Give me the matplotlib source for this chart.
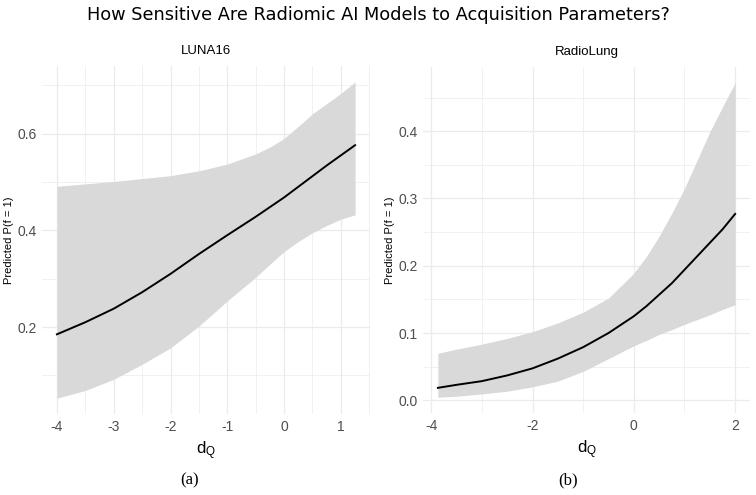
import numpy as np
import matplotlib
matplotlib.use("Agg")
import matplotlib.pyplot as plt
from matplotlib.ticker import MultipleLocator, FormatStrFormatter

# ---------------- data ----------------
luna_x = [-4.0, -3.5, -3.0, -2.5, -2.0, -1.5, -1.0, -0.5, -0.25, 0.0, 0.25, 0.5, 0.75, 1.0, 1.25]
luna_fit = [0.185, 0.210, 0.238, 0.272, 0.310, 0.351, 0.390, 0.428, 0.448, 0.468, 0.490,
            0.512, 0.534, 0.555, 0.576]
luna_hi = [0.491, 0.496, 0.501, 0.507, 0.513, 0.523, 0.537, 0.558, 0.572, 0.590, 0.615,
           0.641, 0.662, 0.683, 0.707]
luna_lo = [0.053, 0.069, 0.092, 0.123, 0.157, 0.202, 0.254, 0.303, 0.330, 0.356, 0.377,
           0.395, 0.410, 0.423, 0.432]

radio_x = [-3.87, -3.5, -3.0, -2.5, -2.0, -1.5, -1.0, -0.5, 0.0, 0.25, 0.5, 0.75,
           1.0, 1.25, 1.5, 1.75, 2.0]
radio_fit = [0.0185, 0.023, 0.0285, 0.037, 0.0475, 0.062, 0.079, 0.100, 0.125, 0.140,
             0.157, 0.174, 0.194, 0.214, 0.234, 0.254, 0.277]
radio_hi = [0.070, 0.076, 0.0835, 0.092, 0.102, 0.115, 0.131, 0.152, 0.189, 0.214,
            0.244, 0.278, 0.315, 0.357, 0.399, 0.436, 0.472]
radio_lo = [0.0045, 0.006, 0.0095, 0.0135, 0.020, 0.0285, 0.043, 0.062, 0.081, 0.089,
            0.098, 0.105, 0.113, 0.120, 0.127, 0.135, 0.142]

panel_titles = ["LUNA16", "RadioLung"]
captions = ["(a)", "(b)"]
suptitle = "How Sensitive Are Radiomic AI Models to Acquisition Parameters?"

GRID = "#ebebeb"
TICK = "#4d4d4d"
BAND = "#d9d9d9"

plt.rcParams["font.family"] = ["Liberation Sans", "DejaVu Sans"]
plt.rcParams["axes.unicode_minus"] = False

W, H = 756, 495
fig = plt.figure(figsize=(W / 100, H / 100), dpi=100)


def px_axes(x0, y0, x1, y1):
    return fig.add_axes([x0 / W, 1 - y1 / H, (x1 - x0) / W, (y1 - y0) / H])


def style(ax, xmaj, xmin, ymaj, ymin):
    ax.xaxis.set_major_locator(MultipleLocator(xmaj))
    ax.xaxis.set_minor_locator(MultipleLocator(xmin))
    ax.yaxis.set_major_locator(MultipleLocator(ymaj))
    ax.yaxis.set_minor_locator(MultipleLocator(ymin))
    ax.yaxis.set_major_formatter(FormatStrFormatter("%.1f"))
    ax.grid(which="major", color=GRID, lw=0.9)
    ax.grid(which="minor", color=GRID, lw=0.5)
    ax.set_axisbelow(True)
    for s in ax.spines.values():
        s.set_visible(False)
    ax.tick_params(which="both", length=0, labelsize=10, labelcolor=TICK, pad=4)
    ax.set_ylabel("Predicted P(f = 1)", fontsize=8, color="black", labelpad=2)
    ax.set_xlabel(r"$\mathregular{d_Q}$", fontsize=12, color="black", labelpad=4)


panels = [
    (px_axes(42, 66, 370, 414), luna_x, luna_fit, luna_lo, luna_hi, (1, 0.5, 0.2, 0.1)),
    (px_axes(423, 67, 750, 413), radio_x, radio_fit, radio_lo, radio_hi, (2, 1, 0.1, 0.05)),
]

for i, (ax, x, fit, lo, hi, loc) in enumerate(panels):
    ax.fill_between(x, lo, hi, color=BAND, lw=0)
    ax.plot(x, fit, color="black", lw=1.4)
    style(ax, *loc)
    ax.set_title(panel_titles[i], fontsize=9.5, pad=9)

fig.text(0.5, 1 - 15 / H, suptitle, ha="center", va="center", fontsize=12.8,
         family="DejaVu Sans")
fig.text(190 / W, 1 - 480 / H, captions[0], ha="center", va="center",
         fontsize=12, family="Liberation Serif")
fig.text(568 / W, 1 - 480 / H, captions[1], ha="center", va="center",
         fontsize=12, family="Liberation Serif")

fig.savefig("out.png", dpi=100)
